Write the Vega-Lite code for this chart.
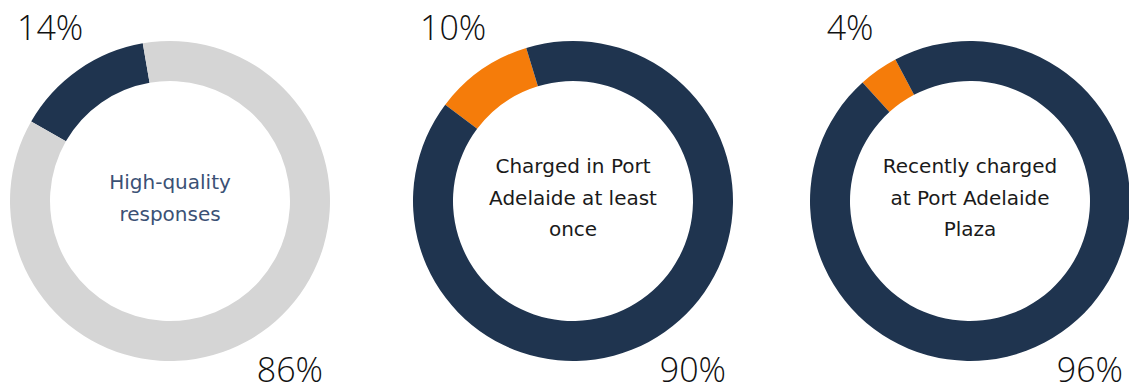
{
  "$schema": "https://vega.github.io/schema/vega-lite/v6.json",
  "autosize": {"type": "pad"},
  "padding": 0,
  "background": "white",
  "spacing": 0,
  "datasets": {
    "d1": [
      {"segment": "High-quality", "share": 0.14},
      {"segment": "Other", "share": 0.86}
    ],
    "d2": [
      {"segment": "Charged", "share": 0.10},
      {"segment": "Not charged", "share": 0.90}
    ],
    "d3": [
      {"segment": "Recently charged", "share": 0.04},
      {"segment": "Not recently", "share": 0.96}
    ],
    "t1": [{"title": "High-quality\nresponses"}],
    "t2": [{"title": "Charged in Port\nAdelaide at least\nonce"}],
    "t3": [{"title": "Recently charged\nat Port Adelaide\nPlaza"}]
  },
  "config": {
    "view": {"stroke": null},
    "text": {"font": "Open Sans"}
  },
  "resolve": {"scale": {"theta": "independent", "color": "independent"}},
  "hconcat": [
    {
      "width": 340,
      "height": 402,
      "layer": [
        {
          "data": {"name": "d1"},
          "mark": {"type": "arc", "radius": 160, "radius2": 120},
          "encoding": {
            "theta": {"field": "share", "type": "quantitative", "stack": true, "scale": {"range": [-1.0507, 5.2325]}},
            "order": {"field": "share", "sort": "ascending"},
            "color": {"field": "segment", "type": "nominal", "legend": null, "scale": {"domain": ["High-quality", "Other"], "range": ["#1f344f", "#d5d5d5"]}}
          }
        },
        {
          "data": {"name": "d1"},
          "mark": {"type": "text", "radius": 209, "fontSize": 34, "fontWeight": 300, "color": "#111111", "align": "center", "baseline": "middle"},
          "encoding": {
            "theta": {"field": "share", "type": "quantitative", "stack": true, "scale": {"range": [-1.0507, 5.2325]}},
            "order": {"field": "share", "sort": "ascending"},
            "text": {"field": "share", "type": "quantitative", "format": ".0%"}
          }
        },
        {
          "data": {"name": "t1"},
          "mark": {"type": "text", "font": "DejaVu Sans", "fontSize": 20, "lineHeight": 31.5, "lineBreak": "\n", "color": "#3b5175", "align": "center", "baseline": "middle", "dy": -18},
          "encoding": {"text": {"field": "title", "type": "nominal"}}
        }
      ]
    },
    {
      "width": 466,
      "height": 402,
      "layer": [
        {
          "data": {"name": "d2"},
          "mark": {"type": "arc", "radius": 160, "radius2": 120},
          "encoding": {
            "theta": {"field": "share", "type": "quantitative", "stack": true, "scale": {"range": [-0.925, 5.3582]}},
            "order": {"field": "share", "sort": "ascending"},
            "color": {"field": "segment", "type": "nominal", "legend": null, "scale": {"domain": ["Charged", "Not charged"], "range": ["#f57c0a", "#1f344f"]}}
          }
        },
        {
          "data": {"name": "d2"},
          "mark": {"type": "text", "radius": 209, "fontSize": 34, "fontWeight": 300, "color": "#111111", "align": "center", "baseline": "middle"},
          "encoding": {
            "theta": {"field": "share", "type": "quantitative", "stack": true, "scale": {"range": [-0.925, 5.3582]}},
            "order": {"field": "share", "sort": "ascending"},
            "text": {"field": "share", "type": "quantitative", "format": ".0%"}
          }
        },
        {
          "data": {"name": "t2"},
          "mark": {"type": "text", "font": "DejaVu Sans", "fontSize": 20, "lineHeight": 31.5, "lineBreak": "\n", "color": "#1a1a1a", "align": "center", "baseline": "middle", "dy": -34},
          "encoding": {"text": {"field": "title", "type": "nominal"}}
        }
      ]
    },
    {
      "width": 328,
      "height": 402,
      "layer": [
        {
          "data": {"name": "d3"},
          "mark": {"type": "arc", "radius": 160, "radius2": 120},
          "encoding": {
            "theta": {"field": "share", "type": "quantitative", "stack": true, "scale": {"range": [-0.7365, 5.5467]}},
            "order": {"field": "share", "sort": "ascending"},
            "color": {"field": "segment", "type": "nominal", "legend": null, "scale": {"domain": ["Recently charged", "Not recently"], "range": ["#f57c0a", "#1f344f"]}}
          }
        },
        {
          "data": {"name": "d3"},
          "mark": {"type": "text", "radius": 209, "fontSize": 34, "fontWeight": 300, "color": "#111111", "align": "center", "baseline": "middle"},
          "encoding": {
            "theta": {"field": "share", "type": "quantitative", "stack": true, "scale": {"range": [-0.7365, 5.5467]}},
            "order": {"field": "share", "sort": "ascending"},
            "text": {"field": "share", "type": "quantitative", "format": ".0%"}
          }
        },
        {
          "data": {"name": "t3"},
          "mark": {"type": "text", "font": "DejaVu Sans", "fontSize": 20, "lineHeight": 31.5, "lineBreak": "\n", "color": "#1a1a1a", "align": "center", "baseline": "middle", "dy": -34},
          "encoding": {"text": {"field": "title", "type": "nominal"}}
        }
      ]
    }
  ]
}
